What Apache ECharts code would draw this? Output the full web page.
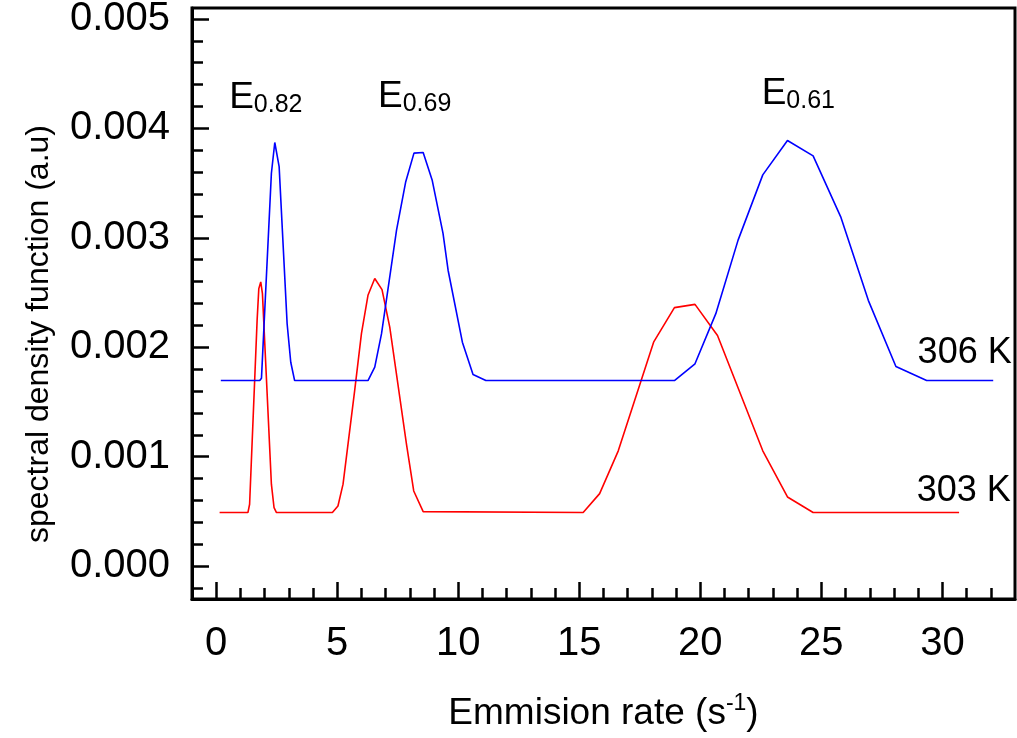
<!DOCTYPE html>
<html>
<head>
<meta charset="utf-8">
<script src="https://cdn.jsdelivr.net/npm/echarts@6/dist/echarts.min.js"></script>
<style>
  html, body { margin: 0; padding: 0; background: #fff; }
  #chart { width: 1017px; height: 738px; }
</style>
</head>
<body>
<div id="chart"></div>
<script>
// Spectral density function vs emission rate, two temperatures
const rate303 = [0.14, 1.31, 1.38, 1.69, 1.76, 1.84, 1.91, 2.28, 2.39, 2.49, 4.80, 5.03, 5.24, 5.72, 6.00, 6.27, 6.55, 6.85, 7.17, 7.86, 8.16, 8.55, 15.16, 15.84, 16.61, 18.07, 18.93, 19.78, 20.71, 22.58, 23.60, 24.66, 30.69];
const sdf303 = [0.00049, 0.00049, 0.000566, 0.002246, 0.002536, 0.002597, 0.00249, 0.000749, 0.000534, 0.00049, 0.00049, 0.00055, 0.000749, 0.001604, 0.002124, 0.002475, 0.002628, 0.002527, 0.002184, 0.001115, 0.000687, 0.000498, 0.00049, 0.000663, 0.001054, 0.002047, 0.002362, 0.002392, 0.002108, 0.001054, 0.000632, 0.00049, 0.00049];

const rate306 = [0.19, 1.80, 1.87, 2.28, 2.42, 2.50, 2.60, 2.93, 3.08, 3.24, 6.27, 6.55, 6.83, 7.45, 7.83, 8.17, 8.55, 8.92, 9.37, 9.58, 10.17, 10.61, 11.14, 18.93, 19.78, 20.64, 21.56, 22.58, 23.60, 24.66, 25.80, 26.94, 28.08, 29.35, 32.10];
const sdf306 = [0.001696, 0.001696, 0.001717, 0.00359, 0.003871, 0.003871, 0.003651, 0.002215, 0.001863, 0.001696, 0.001696, 0.001818, 0.002124, 0.003071, 0.003513, 0.003774, 0.003779, 0.003529, 0.00304, 0.002704, 0.002047, 0.001751, 0.001696, 0.001696, 0.001849, 0.002307, 0.002979, 0.003575, 0.003889, 0.003749, 0.003192, 0.002429, 0.001824, 0.001696, 0.001696];

// Axis ticks
const xMajorTicks = [0, 5, 10, 15, 20, 25, 30];
const xMinorTicks = [1, 2, 3, 4, 6, 7, 8, 9, 11, 12, 13, 14, 16, 17, 18, 19, 21, 22, 23, 24, 26, 27, 28, 29, 31, 32];
const yMajorTicks = [0, 0.001, 0.002, 0.003, 0.004, 0.005];
const yMinorTicks = [-0.0002, 0.0002, 0.0004, 0.0006, 0.0008, 0.0012, 0.0014, 0.0016, 0.0018, 0.0022, 0.0024, 0.0026, 0.0028, 0.0032, 0.0034, 0.0036, 0.0038, 0.0042, 0.0044, 0.0046, 0.0048];

// Peak annotations (activation energies) and curve temperatures
const peakNames = ['0.82', '0.69', '0.61'];
const peakX = [2.05, 8.2, 24.05];
const peakY = [0.00428, 0.00429, 0.00432];
const tempNames = ['306 K', '303 K'];
const tempX = [30.92, 30.88];
const tempY = [0.00195, 0.00069];

const FONT = 'Liberation Sans, Arial, Helvetica, sans-serif';
const X_MIN = -1, X_MAX = 33, Y_MIN = -0.0003, Y_MAX = 0.0051;

const zip = (xs, ys) => xs.map((x, i) => [x, ys[i]]);

const tickStyle = { color: '#000', width: 2.5 };

const chart = echarts.init(document.getElementById('chart'), null, { renderer: 'canvas' });

chart.setOption({
  animation: false,
  backgroundColor: '#fff',
  grid: {
    left: 192, right: 2, top: 8, bottom: 139,
    outerBoundsMode: 'none', containLabel: false,
    show: true, borderColor: '#000', borderWidth: 3, backgroundColor: 'transparent'
  },
  xAxis: [
    {
      type: 'value', min: X_MIN, max: X_MAX, position: 'bottom',
      axisLine: { show: true, onZero: false, lineStyle: { color: '#000', width: 3 } },
      axisTick: { show: true, inside: true, length: 17, customValues: xMajorTicks, lineStyle: tickStyle },
      axisLabel: { show: true, customValues: xMajorTicks, margin: 25, fontSize: 40, fontFamily: FONT, color: '#000' },
      splitLine: { show: false },
      name: '{t|Emmision rate (s}{sup|-1}{t|)}',
      nameLocation: 'middle', nameGap: 93,
      nameTextStyle: {
        rich: {
          t: { fontSize: 37, fontFamily: FONT, color: '#000', lineHeight: 44 },
          sup: { fontSize: 23, fontFamily: FONT, color: '#000', lineHeight: 10, verticalAlign: 'top' }
        }
      }
    },
    {
      type: 'value', min: X_MIN, max: X_MAX, position: 'bottom',
      axisLine: { show: false, onZero: false },
      axisTick: { show: true, inside: true, length: 11, customValues: xMinorTicks, lineStyle: tickStyle },
      axisLabel: { show: false },
      splitLine: { show: false }
    }
  ],
  yAxis: [
    {
      type: 'value', min: Y_MIN, max: Y_MAX, position: 'left',
      axisLine: { show: true, onZero: false, lineStyle: { color: '#000', width: 3 } },
      axisTick: { show: true, inside: true, length: 17, customValues: yMajorTicks, lineStyle: tickStyle },
      axisLabel: {
        show: true, customValues: yMajorTicks, margin: 22, fontSize: 40, fontFamily: FONT, color: '#000',
        formatter: v => v.toFixed(3)
      },
      splitLine: { show: false }
    },
    {
      type: 'value', min: Y_MIN, max: Y_MAX, position: 'left',
      axisLine: { show: false, onZero: false },
      axisTick: { show: true, inside: true, length: 11, customValues: yMinorTicks, lineStyle: tickStyle },
      axisLabel: { show: false },
      splitLine: { show: false }
    }
  ],
  graphic: [
    {
      type: 'text', x: 39, y: 334, rotation: Math.PI / 2,
      style: {
        text: 'spectral density function (a.u)', font: '32px ' + FONT, fill: '#000',
        textAlign: 'center', textVerticalAlign: 'middle'
      }
    }
  ],
  series: [
    {
      name: '303 K', type: 'line', data: zip(rate303, sdf303),
      showSymbol: false, symbol: 'none', lineStyle: { color: '#ff0000', width: 1.6 }, z: 3
    },
    {
      name: '306 K', type: 'line', data: zip(rate306, sdf306),
      showSymbol: false, symbol: 'none', lineStyle: { color: '#0000ff', width: 1.6 }, z: 3
    },
    {
      type: 'scatter', symbolSize: 0, silent: true, itemStyle: { opacity: 1 },
      data: peakNames.map((n, i) => ({ name: n, value: [peakX[i], peakY[i]] })),
      label: {
        show: true, position: [0, 0], align: 'center', verticalAlign: 'middle', color: '#000', opacity: 1,
        formatter: p => '{e|E}{s|' + p.name + '}',
        rich: {
          e: { fontSize: 37, fontFamily: FONT, color: '#000', lineHeight: 40 },
          s: { fontSize: 25, fontFamily: FONT, color: '#000', lineHeight: 12, verticalAlign: 'bottom' }
        }
      }
    },
    {
      type: 'scatter', symbolSize: 0, silent: true, itemStyle: { opacity: 1 },
      data: tempNames.map((n, i) => ({ name: n, value: [tempX[i], tempY[i]] })),
      label: {
        show: true, position: [0, 0], align: 'center', verticalAlign: 'middle', opacity: 1,
        formatter: p => p.name, fontSize: 36, fontFamily: FONT, color: '#000'
      }
    }
  ]
});
</script>
</body>
</html>
